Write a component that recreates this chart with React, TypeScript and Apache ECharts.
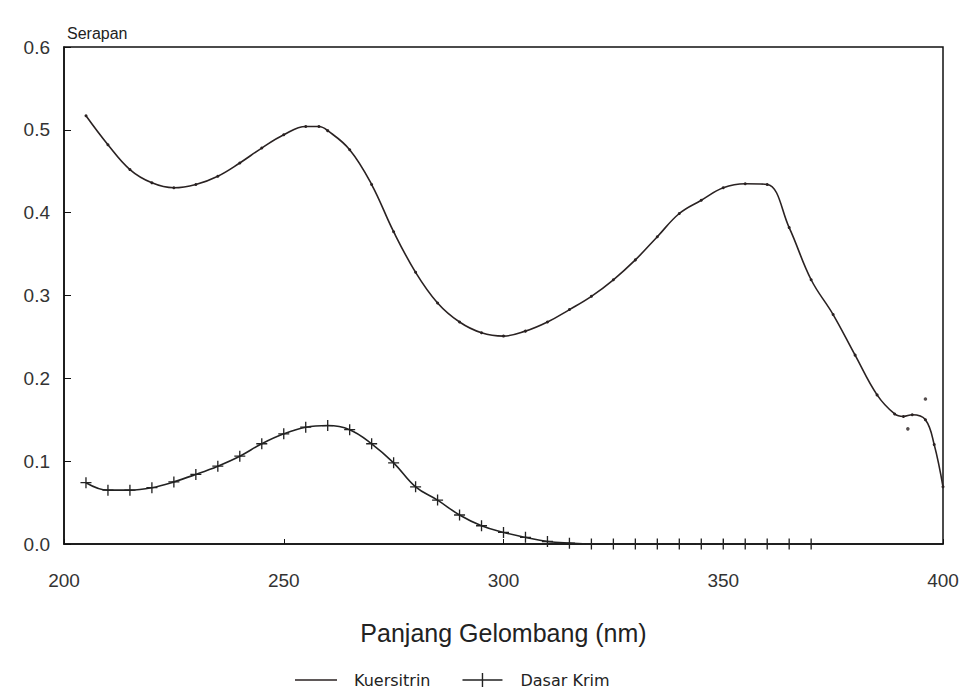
import React, { useEffect, useRef } from "react";
import * as echarts from "echarts";

const kuersitrinX = [205, 210, 215, 220, 225, 230, 235, 240, 245, 250, 255, 258, 260, 265, 270, 275, 280, 285, 290, 295, 300, 305, 310, 315, 320, 325, 330, 335, 340, 345, 350, 355, 360, 365, 370, 375, 380, 385, 389, 391, 393, 396, 398, 400];
const kuersitrinY = [0.517, 0.482, 0.452, 0.436, 0.430, 0.434, 0.444, 0.460, 0.478, 0.494, 0.504, 0.504, 0.499, 0.476, 0.434, 0.377, 0.328, 0.291, 0.268, 0.255, 0.251, 0.257, 0.268, 0.283, 0.299, 0.319, 0.343, 0.371, 0.399, 0.415, 0.430, 0.435, 0.434, 0.382, 0.319, 0.277, 0.228, 0.180, 0.157, 0.154, 0.156, 0.150, 0.120, 0.069];
const strayX = [392, 396];
const strayY = [0.139, 0.175];

const dasarX = [205, 210, 215, 220, 225, 230, 235, 240, 245, 250, 255, 260, 265, 270, 275, 280, 285, 290, 295, 300, 305, 310, 315, 320, 325, 330, 335, 340, 345, 350, 355, 360, 365, 370];
const dasarY = [0.074, 0.065, 0.065, 0.068, 0.075, 0.084, 0.094, 0.106, 0.121, 0.133, 0.141, 0.143, 0.138, 0.121, 0.098, 0.069, 0.053, 0.035, 0.022, 0.014, 0.008, 0.003, 0.001, 0, 0, 0, 0, 0, 0, 0, 0, 0, 0, 0];

const xTicks = [200, 250, 300, 350, 400];
const yTicks = [0, 0.1, 0.2, 0.3, 0.4, 0.5, 0.6];

const plusPath = "path://M0,4.4h10v1.2h-10z M4.4,0h1.2v10h-1.2z";
const lineIcon = "path://M0,6.3h40v1.4h-40z";
const linePlusIcon = "path://M0,6.3h40v1.4h-40z M19.3,0h1.4v14h-1.4z";

export default function App() {
  const ref = useRef<HTMLDivElement>(null);
  useEffect(() => {
    if (!ref.current) return;
    const chart = echarts.init(ref.current, null, { renderer: "svg" });
    const font = "Liberation Sans";
    chart.setOption({
      animation: false,
      backgroundColor: "#fff",
      textStyle: { fontFamily: font },
      grid: { left: 56, right: 21, top: 39, bottom: 145, show: true, borderColor: "#111", borderWidth: 1.5, backgroundColor: "transparent" },
      title: { text: "Serapan", left: 54, top: 12, textStyle: { fontFamily: font, fontSize: 16, fontWeight: "normal", color: "#222" } },
      legend: {
        top: 659,
        left: 282,
        itemGap: 32,
        itemWidth: 42,
        itemHeight: 14,
        textStyle: { fontFamily: "DejaVu Sans", fontSize: 16, color: "#222", padding: [0, 0, 0, 12] },
        data: [
          { name: "Kuersitrin", icon: lineIcon },
          { name: "Dasar Krim", icon: linePlusIcon },
        ],
      },
      xAxis: {
        type: "value",
        min: 200,
        max: 400,
        interval: 50,
        name: "Panjang Gelombang (nm)",
        nameLocation: "middle",
        nameGap: 76,
        nameTextStyle: { fontFamily: font, fontSize: 25, color: "#222" },
        axisLine: { show: true, lineStyle: { color: "#111", width: 1.5 } },
        axisTick: { show: true, inside: true, length: 5, lineStyle: { color: "#111" } },
        axisLabel: { fontFamily: font, fontSize: 19, color: "#333", margin: 27, formatter: (v: number) => (xTicks.includes(v) ? String(v) : "") },
        splitLine: { show: false },
      },
      yAxis: {
        type: "value",
        min: 0,
        max: 0.6,
        interval: 0.1,
        axisLine: { show: true, lineStyle: { color: "#111", width: 1.5 } },
        axisTick: { show: true, inside: true, length: 7, lineStyle: { color: "#111" } },
        axisLabel: { fontFamily: font, fontSize: 19, color: "#333", margin: 14, formatter: (v: number) => { const t = yTicks.find((y) => Math.abs(y - v) < 1e-6); return t === undefined ? "" : t.toFixed(1); } },
        splitLine: { show: false },
      },
      series: [
        {
          name: "Kuersitrin",
          type: "line",
          smooth: 0.4,
          data: kuersitrinX.map((x, i) => [x, kuersitrinY[i]]),
          symbol: "circle",
          symbolSize: 3,
          showSymbol: true,
          lineStyle: { color: "#2a2222", width: 1.6 },
          itemStyle: { color: "#2a2222" },
        },
        {
          name: "Kuersitrin",
          type: "scatter",
          data: strayX.map((x, i) => [x, strayY[i]]),
          symbol: "circle",
          symbolSize: 3.5,
          itemStyle: { color: "#2a2222" },
        },
        {
          name: "Dasar Krim",
          type: "line",
          smooth: 0.4,
          data: dasarX.map((x, i) => [x, dasarY[i]]),
          symbol: plusPath,
          symbolSize: 11,
          showSymbol: true,
          lineStyle: { color: "#222", width: 1.6 },
          itemStyle: { color: "#222" },
        },
      ],
    });
    return () => chart.dispose();
  }, []);
  return <div ref={ref} style={{ width: 956, height: 681 }} />;
}
